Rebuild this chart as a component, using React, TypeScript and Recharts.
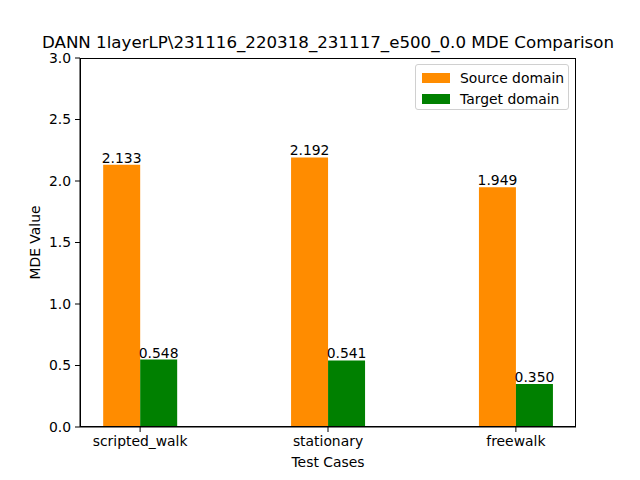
import React from 'react';
import { BarChart, Bar, XAxis, YAxis, LabelList, Label } from 'recharts';

const categories = ['scripted_walk', 'stationary', 'freewalk'];
const sourceValues = [2.133, 2.192, 1.949];
const targetValues = [0.548, 0.541, 0.35];
const yTicks = [0, 0.5, 1, 1.5, 2, 2.5, 3];
const seriesNames = ['Source domain', 'Target domain'];
const seriesColors = ['#ff8c00', '#008000'];

const data = categories.map((name, i) => ({
  x: i,
  name,
  source: sourceValues[i],
  target: targetValues[i],
}));

const FONT = 'DejaVu Sans, sans-serif';
const tickStyle = { fill: '#000', fontSize: 13.9, fontFamily: FONT };

// matplotlib-ish legend box, drawn over the plot
const LegendBox = () => (
  <div
    style={{
      position: 'absolute',
      left: 415,
      top: 64,
      width: 154,
      height: 46,
      border: '1px solid #d0d0d0',
      borderRadius: 3,
      background: 'rgba(255,255,255,0.8)',
      fontFamily: FONT,
      fontSize: 13.9,
      color: '#000',
      boxSizing: 'border-box',
      padding: '2px 0 0 6px',
    }}
  >
    {seriesNames.map((label, i) => (
      <div key={label} style={{ display: 'flex', alignItems: 'center', height: 21 }}>
        <span style={{ width: 28, height: 10, background: seriesColors[i], display: 'inline-block', marginRight: 10 }} />
        <span>{label}</span>
      </div>
    ))}
  </div>
);

export default function App() {
  return (
    <div style={{ position: 'absolute', left: 0, top: 0, width: 640, height: 480, background: '#fff', overflow: 'hidden' }}>
      <div
        style={{
          position: 'absolute',
          left: -172,
          width: 1000,
          top: 33,
          lineHeight: '20px',
          textAlign: 'center',
          fontFamily: FONT,
          fontSize: 16.67,
          color: '#000',
          whiteSpace: 'nowrap',
        }}
      >
        {'DANN 1layerLP\\231116_220318_231117_e500_0.0 MDE Comparison'}
      </div>
      <BarChart
        width={640}
        height={480}
        data={data}
        margin={{ top: 58, right: 64, left: 0, bottom: 0 }}
        barGap={0}
      >
        <XAxis
          dataKey="x"
          type="number"
          domain={[-0.32, 2.32]}
          ticks={[0, 1, 2]}
          tickFormatter={(v: number) => categories[v]}
          allowDataOverflow
          height={53}
          tick={tickStyle}
          tickSize={5}
          tickMargin={4}
          stroke="#000"
        >
          <Label value="Test Cases" position="insideBottom" offset={13} style={{ fill: '#000', fontSize: 13.9, fontFamily: FONT }} />
        </XAxis>
        <YAxis
          domain={[0, 3]}
          ticks={yTicks}
          tickFormatter={(v: number) => v.toFixed(1)}
          width={80}
          tick={tickStyle}
          tickSize={5}
          tickMargin={4}
          stroke="#000"
        >
          <Label
            value="MDE Value"
            angle={-90}
            position="insideLeft"
            offset={35}
            style={{ textAnchor: 'middle', fill: '#000', fontSize: 13.9, fontFamily: FONT }}
          />
        </YAxis>
        <Bar dataKey="source" name={seriesNames[0]} fill={seriesColors[0]} barSize={37} isAnimationActive={false}>
          <LabelList
            dataKey="source"
            position="top"
            offset={2}
            formatter={(v: number) => v.toFixed(3)}
            style={{ fill: '#000', fontSize: 13.9, fontFamily: FONT }}
          />
        </Bar>
        <Bar dataKey="target" name={seriesNames[1]} fill={seriesColors[1]} barSize={37} isAnimationActive={false}>
          <LabelList
            dataKey="target"
            position="top"
            offset={2}
            formatter={(v: number) => v.toFixed(3)}
            style={{ fill: '#000', fontSize: 13.9, fontFamily: FONT }}
          />
        </Bar>
      </BarChart>
      {/* axes frame */}
      <div
        style={{
          position: 'absolute',
          left: 80,
          top: 58,
          width: 496,
          height: 369,
          border: '1px solid #000',
          boxSizing: 'border-box',
          pointerEvents: 'none',
        }}
      />
      <LegendBox />
    </div>
  );
}
